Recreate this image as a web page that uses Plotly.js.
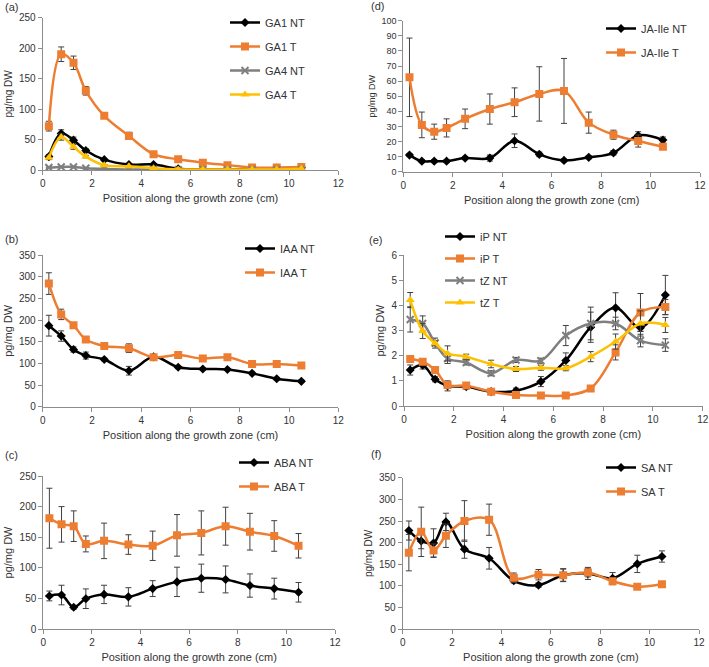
<!DOCTYPE html>
<html>
<head>
<meta charset="utf-8">
<script src="https://cdn.plot.ly/plotly-3.0.1.min.js"></script>
<style>html,body{margin:0;padding:0;background:#fff;}#chart{width:709px;height:667px;}</style>
</head>
<body>
<div id="chart"></div>
<script>
// Positions along the growth zone (cm)
const positions = [0.25, 0.75, 1.25, 1.75, 2.5, 3.5, 4.5, 5.5, 6.5, 7.5, 8.5, 9.5, 10.5];

// (a) Gibberellins
const ga1NT = [22, 60, 49, 32, 17, 9, 9, 2, 1, 1, 2, 3, 4];
const ga1NTErr = [3, 6, 5, 3, 2, 1, 1, 0.5, 0.5, 0.5, 0.5, 0.5, 0.5];
const ga1T = [72, 190, 176, 130, 89, 56, 26, 17.5, 12, 8, 4, 4, 5];
const ga1TErr = [8, 12, 11, 7, 3, 6, 2, 1, 1, 1, 1, 1, 1];
const ga4NT = [4, 5, 5, 3, 2, 1, 1, 0.5, 0.5, 0.5, 0.5, 0.5, 0.5];
const ga4NTErr = [1, 1, 1, 1, 0.5, 0.5, 0.5, 0.3, 0.3, 0.3, 0.3, 0.3, 0.3];
const ga4T = [20, 54, 38, 22, 8, 6, 3, 1, 1, 1, 1, 1, 2];
const ga4TErr = [3, 5, 4, 2, 1, 1, 1, 0.5, 0.5, 0.5, 0.5, 0.5, 0.5];

// (b) IAA
const iaaNT = [187, 163, 132, 118, 109, 83, 115, 91, 87, 86, 77, 64.5, 58.5];
const iaaNTErr = [24, 12, 6, 8, 3, 10, 3, 3, 2, 2, 3, 3, 3];
const iaaT = [284, 213, 188, 155, 140, 135, 114, 119, 111, 114, 98.5, 98.5, 95];
const iaaTErr = [25, 12, 4, 4, 3, 10, 5, 4, 3, 3, 4, 3, 3];

// (c) ABA
const abaNT = [54, 55.5, 35.5, 49.5, 56.5, 52.5, 66, 77, 83, 81, 71, 66, 60];
const abaNTErr = [8, 16, 3, 16, 15, 15, 13, 24, 23, 22, 19, 17, 16];
const abaT = [181, 171, 168, 139, 144, 138, 136, 153, 157, 168, 159, 152, 136];
const abaTErr = [49, 29, 25, 13, 29, 16, 24, 34, 36, 31, 30, 25, 20];

// (d) JA-Ile
const jaNT = [11, 7, 7, 7, 9, 9, 20.5, 11.5, 7.5, 9.5, 12.5, 24, 21];
const jaNTErr = [1, 1, 1, 1, 1, 2, 4.5, 1.5, 1, 1, 1.5, 2.5, 2];
const jaT = [62.5, 31, 26.5, 29, 35, 41.5, 46, 51.5, 53.5, 32.5, 24.5, 20.3, 16.5];
const jaTErr = [26, 8.5, 5, 6, 6.5, 10, 9.5, 18, 21.5, 7, 3, 4, 1];

// (e) Cytokinins
const ipNT = [1.43, 1.62, 1.06, 0.8, 0.77, 0.57, 0.61, 0.97, 1.81, 3.13, 3.9, 3.11, 4.41];
const ipNTErr = [0.2, 0.15, 0.1, 0.2, 0.1, 0.05, 0.1, 0.2, 0.3, 0.6, 0.6, 0.15, 0.78];
const ipT = [1.87, 1.76, 1.43, 0.83, 0.81, 0.57, 0.44, 0.42, 0.42, 0.7, 2.13, 3.72, 3.93];
const ipTErr = [0.05, 0.1, 0.1, 0.05, 0.1, 0.05, 0.05, 0.05, 0.05, 0.05, 0.3, 0.75, 0.3];
const tzNT = [3.44, 3.28, 2.5, 1.89, 1.73, 1.3, 1.83, 1.8, 2.8, 3.28, 3.28, 2.6, 2.42];
const tzNTErr = [0.5, 0.3, 0.2, 0.2, 0.1, 0.1, 0.1, 0.1, 0.4, 0.65, 0.25, 0.25, 0.25];
const tzT = [4.21, 2.98, 2.49, 2.09, 1.96, 1.67, 1.47, 1.52, 1.5, 1.96, 2.56, 3.28, 3.22];
const tzTErr = [0.3, 0.3, 0.1, 0.3, 0.1, 0.15, 0.1, 0.1, 0.1, 0.2, 0.3, 0.5, 0.3];

// (f) SA
const saNT = [228, 204, 199, 248, 185, 164, 112, 102, 125, 129, 118, 151, 168];
const saNTErr = [22, 18, 33, 20, 21, 25, 5, 5, 15, 14, 13, 20, 13];
const saT = [177, 225, 182, 216, 250, 253, 119, 126, 125, 131, 111, 98.5, 104];
const saTErr = [42, 57, 15, 27, 47, 36, 11, 12, 14, 10, 8, 3, 3];

const panelLabels = ['(a)', '(b)', '(c)', '(d)', '(e)', '(f)'];
const xTitle = 'Position along the growth zone (cm)';
const yTitle = 'pg/mg DW';

const BLACK = '#000000', ORANGE = '#ED7D31', GRAY = '#7F7F7F', YELLOW = '#FFC000';
const ERR = '#404040';
const style = {
  NT: {color: BLACK, symbol: 'diamond', size: 7},
  T: {color: ORANGE, symbol: 'square', size: 8},
  NT2: {color: GRAY, symbol: 'x-thin-open', size: 7},
  T2: {color: YELLOW, symbol: 'triangle-up', size: 8}
};

function tr(name, y, err, st, ax, legend) {
  const s = style[st];
  return {
    type: 'scatter', mode: 'lines+markers', name: name, x: positions, y: y,
    xaxis: 'x' + ax, yaxis: 'y' + ax, legend: legend, legendgroup: name,
    line: {color: s.color, width: 2.5, shape: 'spline', smoothing: 1},
    marker: {color: s.color, symbol: s.symbol, size: s.size,
             line: {color: s.color, width: st === 'NT2' ? 2 : 0}},
    error_y: {type: 'data', array: err, visible: true, color: ERR, thickness: 1, width: 3}
  };
}

const data = [
  tr('GA1 NT', ga1NT, ga1NTErr, 'NT', '', 'legend'),
  tr('GA1 T', ga1T, ga1TErr, 'T', '', 'legend'),
  tr('GA4 NT', ga4NT, ga4NTErr, 'NT2', '', 'legend'),
  tr('GA4 T', ga4T, ga4TErr, 'T2', '', 'legend'),
  tr('IAA NT', iaaNT, iaaNTErr, 'NT', '2', 'legend2'),
  tr('IAA T', iaaT, iaaTErr, 'T', '2', 'legend2'),
  tr('ABA NT', abaNT, abaNTErr, 'NT', '3', 'legend3'),
  tr('ABA T', abaT, abaTErr, 'T', '3', 'legend3'),
  tr('JA-Ile NT', jaNT, jaNTErr, 'NT', '4', 'legend4'),
  tr('JA-Ile T', jaT, jaTErr, 'T', '4', 'legend4'),
  tr('iP NT', ipNT, ipNTErr, 'NT', '5', 'legend5'),
  tr('iP T', ipT, ipTErr, 'T', '5', 'legend5'),
  tr('tZ NT', tzNT, tzNTErr, 'NT2', '5', 'legend5'),
  tr('tZ T', tzT, tzTErr, 'T2', '5', 'legend5'),
  tr('SA NT', saNT, saNTErr, 'NT', '6', 'legend6'),
  tr('SA T', saT, saTErr, 'T', '6', 'legend6')
];

const W = 709, H = 667;
const px = v => v / W, py = v => 1 - v / H;
const AXC = '#8c8c8c';
const TXT = '#333333';

function xa(x0, x1, anchor, tfs) {
  return {domain: [px(x0), px(x1)], anchor: anchor, range: [0, 12], dtick: 2, tick0: 0,
    showgrid: false, zeroline: false, showline: true, linecolor: AXC, linewidth: 1,
    ticks: 'outside', ticklen: 4, tickcolor: AXC, tickfont: {size: tfs, color: TXT},
    title: {text: xTitle, font: {size: 11, color: TXT}, standoff: 6}};
}
function ya(y0, y1, anchor, range, dtick, tfs, yfs) {
  return {domain: [py(y0), py(y1)], anchor: anchor, range: range, dtick: dtick, tick0: 0,
    showgrid: false, zeroline: false, showline: true, linecolor: AXC, linewidth: 1,
    ticks: 'outside', ticklen: 4, tickcolor: AXC, tickfont: {size: tfs, color: TXT},
    title: {text: yTitle, font: {size: yfs, color: TXT}, standoff: 4}};
}
function lg(x, y, gap) {
  return {x: px(x), y: py(y), xanchor: 'left', yanchor: 'top', bgcolor: 'rgba(0,0,0,0)',
    font: {size: 11, color: TXT}, tracegroupgap: gap, itemwidth: 30};
}
function lab(i, x, y) {
  return {text: panelLabels[i], x: px(x), y: py(y), xref: 'paper', yref: 'paper',
    xanchor: 'left', yanchor: 'middle', showarrow: false, font: {size: 11, color: TXT}};
}

const layout = {
  width: W, height: H, margin: {l: 0, r: 0, t: 0, b: 0},
  paper_bgcolor: '#ffffff', plot_bgcolor: '#ffffff',
  font: {family: 'Liberation Sans, Arial, sans-serif', color: TXT},
  showlegend: true,
  xaxis: xa(42.7, 338.3, 'y', 10),
  yaxis: ya(170, 17.7, 'x', [0, 250], 50, 10, 10),
  xaxis2: xa(42.7, 338.3, 'y2', 10),
  yaxis2: ya(406.7, 255, 'x2', [0, 350], 50, 10, 11),
  xaxis3: xa(43.3, 335, 'y3', 10),
  yaxis3: ya(629, 476, 'x3', [0, 250], 50, 10, 11),
  xaxis4: xa(403.3, 700, 'y4', 10),
  yaxis4: ya(171.7, 20.7, 'x4', [0, 100], 10, 9, 9),
  xaxis5: xa(404, 702.7, 'y5', 10),
  yaxis5: ya(406, 255, 'x5', [0, 6], 1, 10, 11),
  xaxis6: xa(402.7, 699, 'y6', 10),
  yaxis6: ya(629.3, 477.7, 'x6', [0, 350], 50, 10, 10),
  legend: lg(225, 8, 5),
  legend2: lg(240, 234, 5),
  legend3: lg(234, 448, 5),
  legend4: lg(601, 14, 5),
  legend5: lg(440, 222, 3),
  legend6: lg(601, 453, 5),
  annotations: [
    lab(0, 3, 7), lab(1, 3, 239), lab(2, 3, 455),
    lab(3, 369, 6), lab(4, 367, 240), lab(5, 369, 454)
  ]
};

Plotly.newPlot('chart', data, layout, {displayModeBar: false, staticPlot: true});
</script>
</body>
</html>
